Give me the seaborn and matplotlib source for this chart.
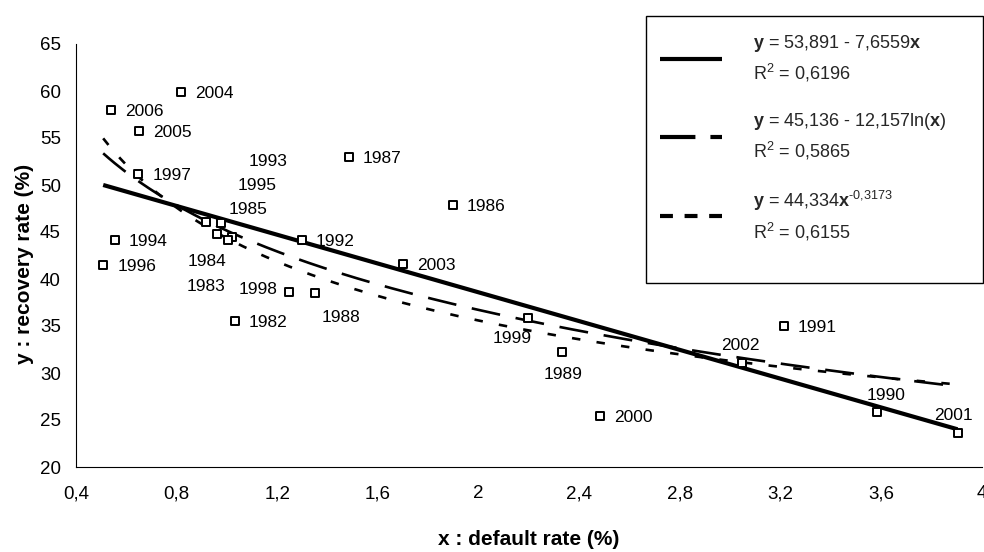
import numpy as np
import pandas as pd
import matplotlib
matplotlib.use("Agg")
import matplotlib.pyplot as plt
from matplotlib.lines import Line2D
from matplotlib.patches import Rectangle
import seaborn as sns

# --- data -------------------------------------------------------------
years = [1982, 1983, 1984, 1985, 1986, 1987, 1988, 1989, 1990, 1991,
         1992, 1993, 1994, 1995, 1996, 1997, 1998, 1999, 2000, 2001,
         2002, 2003, 2004, 2005, 2006]
default_rate = [1.032, 0.959, 0.917, 0.975, 1.897, 1.485, 1.351, 2.332, 3.584, 3.213,
                1.297, 1.021, 0.555, 1.003, 0.508, 0.648, 1.245, 2.195, 2.482, 3.903,
                3.045, 1.698, 0.817, 0.652, 0.539]
recovery_rate = [35.56, 44.80, 46.10, 46.00, 47.87, 52.95, 38.48, 32.27, 25.88, 35.03,
                 44.15, 44.50, 44.15, 44.15, 41.50, 51.14, 38.65, 35.88, 25.43, 23.58,
                 31.03, 41.56, 59.90, 55.78, 57.98]

# trend-line coefficients and fit quality
linear_coef = [53.891, -7.6559]     # y = a + b*x
log_coef = [45.136, -12.157]        # y = a + b*ln(x)
power_coef = [44.334, -0.3173]      # y = a * x^b
r_squared = [0.6196, 0.5865, 0.6155]

x_ticks = [0.4, 0.8, 1.2, 1.6, 2.0, 2.4, 2.8, 3.2, 3.6, 4.0]
x_tick_labels = ["0,4", "0,8", "1,2", "1,6", "2", "2,4", "2,8", "3,2", "3,6", "4"]
y_ticks = [20, 25, 30, 35, 40, 45, 50, 55, 60, 65]

# --- label placement (pixel offsets from the point, text centred) ------
label_offsets = {
    1993: (36, -77), 1995: (29, -56), 1985: (27, -15), 1984: (1, 38),
    1983: (-11, 51), 1998: (-31, -4), 1988: (26, 23), 1999: (-16, 19),
    1989: (1, 21), 2002: (-1, -19), 1990: (9, -18), 2001: (-4, -19),
}

# --- style -------------------------------------------------------------
sns.set_theme(style="white")
plt.rcParams["font.family"] = ["Liberation Sans", "DejaVu Sans"]
plt.rcParams["mathtext.fontset"] = "custom"
plt.rcParams["mathtext.rm"] = "Liberation Sans"
plt.rcParams["mathtext.bf"] = "Liberation Sans:bold"
plt.rcParams["mathtext.it"] = "Liberation Sans:italic"

W, H = 984, 552
fig = plt.figure(figsize=(W / 100, H / 100), dpi=100)
fig.patch.set_facecolor("white")
ax = fig.add_axes([76 / W, 1 - 467 / H, (982 - 76) / W, (467 - 44) / H])
ax.set_facecolor("white")

df = pd.DataFrame({"year": years, "x": default_rate, "y": recovery_rate})

# trend lines over the observed x range
xf = np.linspace(df["x"].min(), df["x"].max(), 300)
y_lin = linear_coef[0] + linear_coef[1] * xf
y_log = log_coef[0] + log_coef[1] * np.log(xf)
y_pow = power_coef[0] * xf ** power_coef[1]

sns.lineplot(x=xf, y=y_log, ax=ax, color="black", linewidth=1.9,
             linestyle=(0, (11, 6)), zorder=2)
sns.lineplot(x=xf, y=y_pow, ax=ax, color="black", linewidth=1.9,
             linestyle=(0, (3.2, 6.2)), zorder=2)
sns.lineplot(x=xf, y=y_lin, ax=ax, color="black", linewidth=3.0,
             solid_capstyle="butt", zorder=2)

sns.scatterplot(data=df, x="x", y="y", ax=ax, marker="s", s=34,
                facecolor="white", edgecolor="black", linewidth=1.4,
                zorder=3, legend=False)

# year labels
for yr, xv, yv in zip(years, default_rate, recovery_rate):
    if yr in label_offsets:
        dx, dy = label_offsets[yr]
        ax.annotate(str(yr), (xv, yv), xytext=(dx, -dy - 1.5),
                    textcoords="offset pixels", ha="center", va="center",
                    fontsize=12.5, color="black", zorder=4)
    else:
        ax.annotate(str(yr), (xv, yv), xytext=(14, -1.5),
                    textcoords="offset pixels", ha="left", va="center",
                    fontsize=12.5, color="black", zorder=4)

# axes
ax.set_xlim(0.4, 4.0)
ax.set_ylim(20, 65)
ax.set_xticks(x_ticks)
ax.set_xticklabels(x_tick_labels)
ax.set_yticks(y_ticks)
ax.set_yticklabels([str(v) for v in y_ticks])
ax.tick_params(axis="both", which="major", direction="out", length=5,
               width=0.8, color="black", labelsize=13.5, labelcolor="black")
ax.tick_params(axis="x", pad=8)
ax.tick_params(axis="y", pad=6)
for side in ["top", "right"]:
    ax.spines[side].set_visible(False)
for side in ["left", "bottom"]:
    ax.spines[side].set_color("black")
    ax.spines[side].set_linewidth(0.8)

ax.set_xlabel("x : default rate (%)", fontsize=15, fontweight="bold", color="black")
ax.set_ylabel("y : recovery rate (%)", fontsize=15, fontweight="bold", color="black")
ax.xaxis.set_label_coords(0.5, (467 - 530) / 423)
ax.yaxis.set_label_coords(-(76 - 34) / 906, 0.48)

# legend
def comma(v):
    return f"{v}".replace(".", ",")

labels = [
    r"$\mathbf{y}$ = 53,891 - 7,6559$\mathbf{x}$" + "\n"
    + r"$\mathrm{R}^{2}$ = " + comma(r_squared[0]),
    r"$\mathbf{y}$ = 45,136 - 12,157ln($\mathbf{x}$)" + "\n"
    + r"$\mathrm{R}^{2}$ = " + comma(r_squared[1]),
    r"$\mathbf{y}$ = 44,334$\mathbf{x}^{\text{" + comma(power_coef[1]) + r"}}$" + "\n"
    + r"$\mathrm{R}^{2}$ = " + comma(r_squared[2]),
]
handles = [
    Line2D([], [], color="black", linewidth=3.0, solid_capstyle="butt"),
    Line2D([], [], color="black", linewidth=3.0, linestyle=(0, (8.5, 3.6))),
    Line2D([], [], color="black", linewidth=3.0, linestyle=(0, (3.1, 2.8))),
]
leg = ax.legend(handles, labels, loc="upper left",
                bbox_to_anchor=(660 / W, 1 - 33 / H), bbox_transform=fig.transFigure,
                frameon=False, fontsize=13, handlelength=3.45, handletextpad=1.7,
                labelspacing=1.5, borderpad=0, borderaxespad=0)
for t in leg.get_texts():
    t.set_linespacing(1.45)

fig.add_artist(Rectangle((646 / W, 1 - 283 / H), (983 - 646) / W, (283 - 16) / H,
                         transform=fig.transFigure, facecolor="none",
                         edgecolor="black", linewidth=1.0, zorder=5))

fig.savefig("out.png", dpi=100, facecolor="white")
